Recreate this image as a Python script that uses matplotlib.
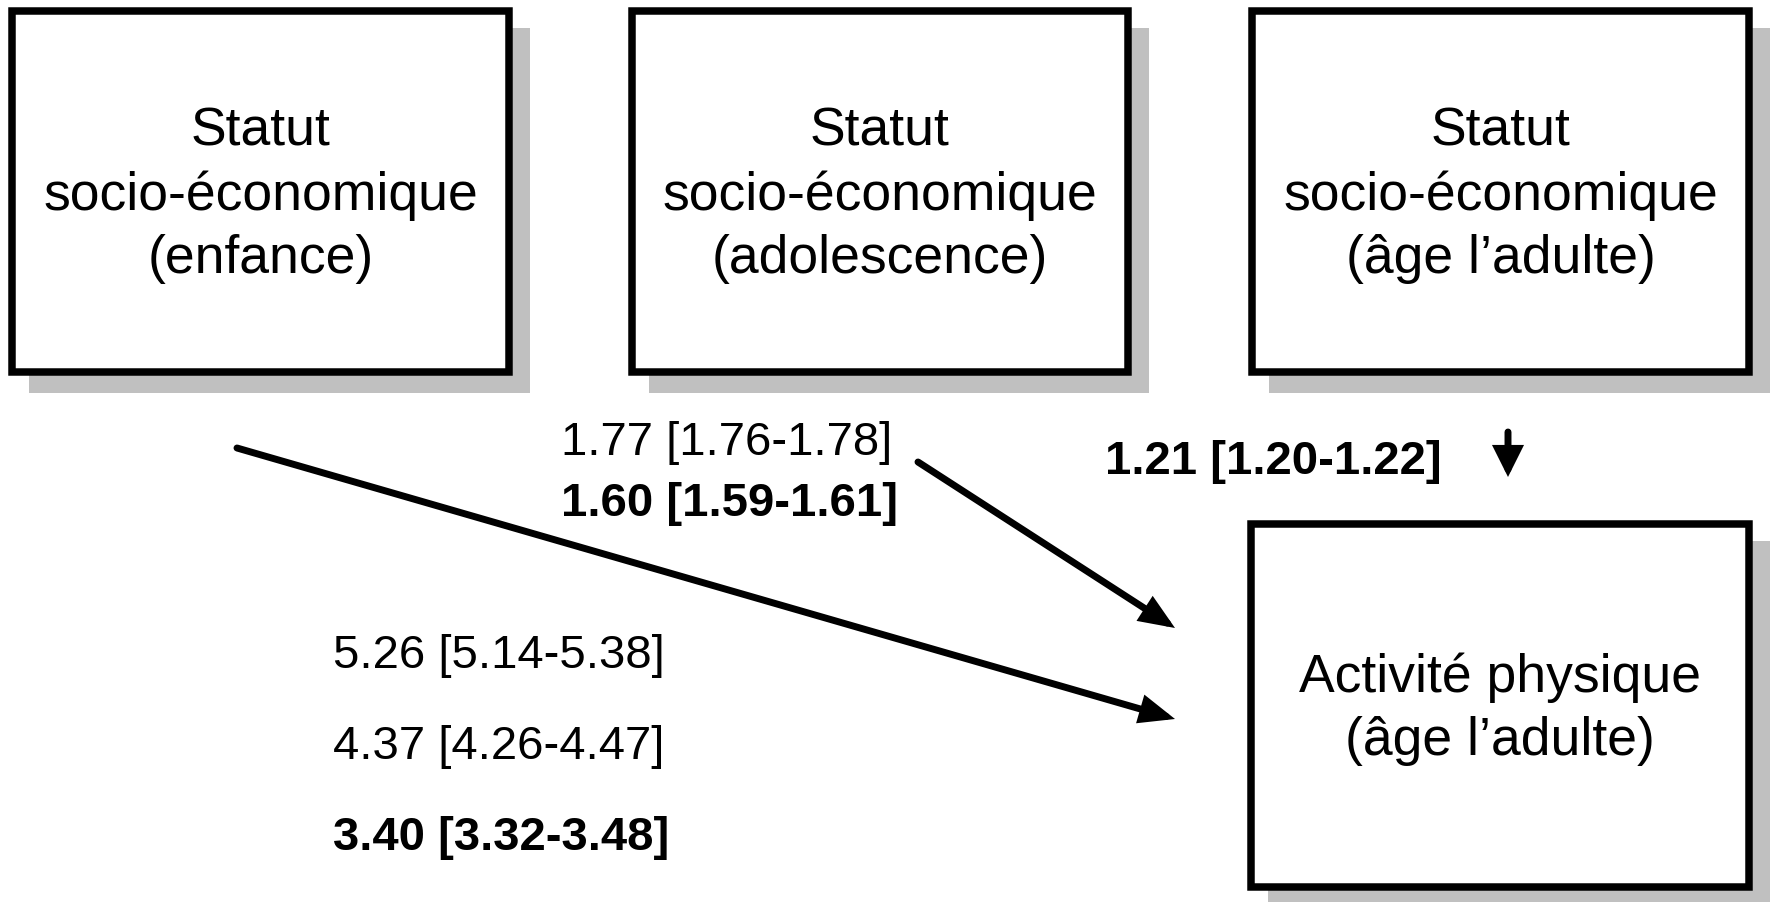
import matplotlib
matplotlib.use("Agg")
import matplotlib.pyplot as plt
from matplotlib.patches import Rectangle, FancyArrowPatch, ArrowStyle

plt.rcParams['font.family'] = ['Liberation Sans', 'DejaVu Sans']

# Textes des boîtes
box_labels = [
    "Statut\nsocio-économique\n(enfance)",
    "Statut\nsocio-économique\n(adolescence)",
    "Statut\nsocio-économique\n(âge l’adulte)",
    "Activité physique\n(âge l’adulte)",
]

# Estimations (OR [IC 95%])
est_adolescence = ["1.77 [1.76-1.78]", "1.60 [1.59-1.61]"]
est_adulte = ["1.21 [1.20-1.22]"]
est_enfance = ["5.26 [5.14-5.38]", "4.37 [4.26-4.47]", "3.40 [3.32-3.48]"]
bold_adolescence = [False, True]
bold_adulte = [True]
bold_enfance = [False, False, True]

W, H = 1771, 902
fig = plt.figure(figsize=(W / 100, H / 100), dpi=100)
ax = fig.add_axes([0, 0, 1, 1])
ax.set_xlim(0, W)
ax.set_ylim(H, 0)
ax.axis('off')

# positions des boîtes (pixels): x0, y0, x1, y1
boxes = [(12, 11, 509, 372), (632, 11, 1128, 372),
         (1252, 11, 1749, 372), (1251, 524, 1749, 887)]
shadow = 17

for (x0, y0, x1, y1), lab in zip(boxes, box_labels):
    ax.add_patch(Rectangle((x0 + shadow, y0 + shadow), x1 - x0 + 4, y1 - y0 + 4,
                           facecolor='#c0c0c0', edgecolor='none', zorder=1))
    ax.add_patch(Rectangle((x0, y0), x1 - x0, y1 - y0, facecolor='white',
                           edgecolor='black', lw=5.4, zorder=2))
    ax.text((x0 + x1) / 2, (y0 + y1) / 2 + 4, lab, ha='center', va='center',
            fontsize=38.5, linespacing=1.34, zorder=3)

# flèches
style = ArrowStyle('-|>', head_length=17, head_width=7)
for p0, p1 in [((237, 448), (1175, 719)), ((918, 462), (1175, 628))]:
    ax.add_patch(FancyArrowPatch(p0, p1, arrowstyle=style, mutation_scale=1,
                                 lw=5, color='black', shrinkA=0, shrinkB=0,
                                 joinstyle='miter', zorder=4))
ax.add_patch(FancyArrowPatch((1508, 432), (1508, 477),
                             arrowstyle=ArrowStyle('-|>', head_length=15, head_width=7.5),
                             mutation_scale=1, lw=5, color='black',
                             shrinkA=0, shrinkB=0, joinstyle='miter', zorder=4))

# textes des estimations
def put(labels, bolds, x, ys):
    for t, b, y in zip(labels, bolds, ys):
        ax.text(x, y, t, ha='left', va='center', fontsize=34,
                fontweight='bold' if b else 'normal')

put(est_adolescence, bold_adolescence, 561, [443, 504])
put(est_adulte, bold_adulte, 1105, [462])
put(est_enfance, bold_enfance, 333, [656, 747, 838])

fig.savefig("out.png", dpi=100)
